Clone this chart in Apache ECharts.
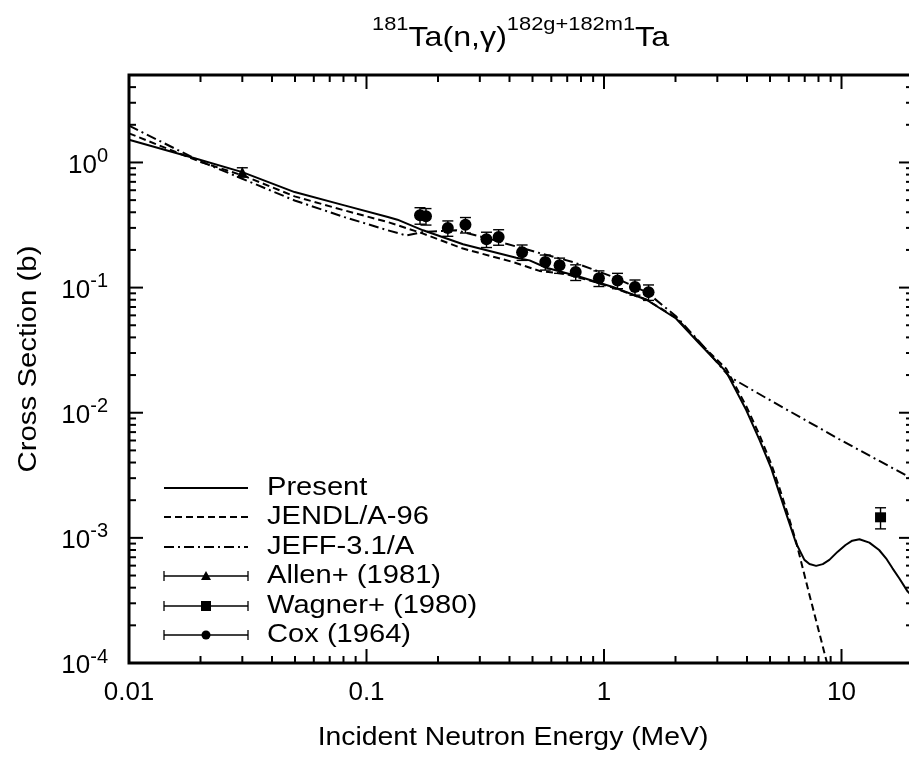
<!DOCTYPE html>
<html>
<head>
<meta charset="utf-8">
<script src="https://cdn.jsdelivr.net/npm/echarts@6/dist/echarts.min.js"></script>
<style>html,body{margin:0;padding:0;background:#fff;}#c{width:909px;height:758px;}</style>
</head>
<body>
<div id="c"></div>
<script>
// ---- data ----
const presentE = [0.01, 0.0189, 0.03, 0.0498, 0.0807, 0.123, 0.135, 0.173, 0.255, 0.427, 0.486, 0.572, 0.789, 1.09, 1.51, 2.01, 2.52, 2.9, 3.27, 3.97, 4.52, 5.06, 5.48, 5.94, 6.44, 6.98, 7.33, 7.82, 8.34, 8.89, 9.64, 10.4, 11.1, 11.9, 13.1, 14.4, 15.4, 16.4, 17.5, 19.0, 20];
const presentS = [1.52, 1.08, 0.837, 0.58, 0.454, 0.366, 0.349, 0.287, 0.222, 0.173, 0.165, 0.144, 0.122, 0.101, 0.080, 0.0566, 0.0357, 0.027, 0.0212, 0.0105, 0.00604, 0.00359, 0.00227, 0.00143, 0.000906, 0.000667, 0.000619, 0.000597, 0.000617, 0.000667, 0.000776, 0.000877, 0.00095, 0.000975, 0.000916, 0.0008, 0.000687, 0.000571, 0.000476, 0.000372, 0.00034];

const jendlE = [0.01, 0.02, 0.03, 0.0498, 0.0807, 0.123, 0.173, 0.255, 0.414, 0.535, 0.694, 0.9, 1.09, 1.51, 2.01, 2.52, 2.9, 3.27, 3.97, 4.52, 5.06, 5.48, 5.94, 6.44, 7.33, 8.07, 9.0];
const jendlS = [1.71, 1.01, 0.79, 0.536, 0.414, 0.334, 0.27, 0.205, 0.16, 0.136, 0.128, 0.112, 0.1, 0.08, 0.0575, 0.0365, 0.028, 0.0225, 0.0113, 0.0066, 0.0039, 0.0025, 0.00155, 0.00093, 0.00035, 0.000173, 0.000077];

const jeffE = [0.01, 0.02, 0.03, 0.0498, 0.0807, 0.123, 0.147, 0.173, 0.239, 0.33, 0.388, 0.535, 0.74, 1.09, 1.51, 2.01, 2.52, 3.37, 4.82, 10, 20];
const jeffS = [1.97, 1.02, 0.741, 0.497, 0.366, 0.287, 0.261, 0.278, 0.287, 0.245, 0.224, 0.189, 0.16, 0.122, 0.092, 0.059, 0.037, 0.0194, 0.0131, 0.006, 0.00295];

const allenE = [0.03];
const allenS = [0.837];
const allenErr = [0.07];

const wagnerE = [14.6];
const wagnerS = [0.00146];
const wagnerErr = [0.00028];

const coxE = [0.168, 0.178, 0.22, 0.261, 0.32, 0.36, 0.452, 0.566, 0.65, 0.76, 0.952, 1.14, 1.35, 1.54];
const coxS = [0.378, 0.372, 0.299, 0.318, 0.243, 0.254, 0.192, 0.16, 0.151, 0.133, 0.119, 0.114, 0.101, 0.092];
const coxErr = [0.057, 0.056, 0.042, 0.045, 0.034, 0.036, 0.027, 0.022, 0.021, 0.019, 0.017, 0.016, 0.014, 0.013];

const xMajorTicks = [0.01, 0.1, 1, 10];
const xTickLabels = ['0.01', '0.1', '1', '10'];
const yMajorTicks = [1e-4, 1e-3, 1e-2, 1e-1, 1];
const yTickExponents = ['-4', '-3', '-2', '-1', '0'];

const legendNames = ['Present', 'JENDL/A-96', 'JEFF-3.1/A', 'Allen+ (1981)', 'Wagner+ (1980)', 'Cox (1964)'];
const titleParts = ['181', 'Ta(n,\u03b3)', '182g+182m1', 'Ta'];

// ---- helpers ----
const X_MIN = 0.01, X_MAX = 20, Y_MIN = 1e-4, Y_MAX = 5;
const FONT = 'Liberation Sans, Arial, sans-serif';

function minorsBetween(lo, hi, majors) {
  const out = [];
  majors.forEach(m => { for (let k = 2; k <= 9; k++) { const v = m * k; if (v > lo && v <= hi) out.push(v); } });
  return out;
}
const xMinor = minorsBetween(X_MIN, X_MAX, xMajorTicks);
const yMinor = minorsBetween(Y_MIN, Y_MAX, yMajorTicks);

const pairs = (xs, ys) => xs.map((x, i) => [x, ys[i]]);
const errData = (xs, ys, es) => xs.map((x, i) => [x, ys[i], ys[i] - es[i], ys[i] + es[i]]);

function errRender(params, api) {
  const x = api.value(0);
  const pl = api.coord([x, api.value(2)]);
  const ph = api.coord([x, api.value(3)]);
  const w = 5.5;
  const st = { stroke: '#000', lineWidth: 1.4 };
  return { type: 'group', children: [
    { type: 'line', shape: { x1: pl[0], y1: pl[1], x2: ph[0], y2: ph[1] }, style: st },
    { type: 'line', shape: { x1: ph[0] - w, y1: ph[1], x2: ph[0] + w, y2: ph[1] }, style: st },
    { type: 'line', shape: { x1: pl[0] - w, y1: pl[1], x2: pl[0] + w, y2: pl[1] }, style: st }
  ]};
}

function xTickRender(params, api) {
  const p = api.coord([api.value(0), 1]);
  const cs = params.coordSys;
  const len = api.value(1) ? 14 : 7;
  const st = { stroke: '#000', lineWidth: 2 };
  const b = cs.y + cs.height;
  return { type: 'group', children: [
    { type: 'line', shape: { x1: p[0], y1: b, x2: p[0], y2: b - len }, style: st },
    { type: 'line', shape: { x1: p[0], y1: cs.y, x2: p[0], y2: cs.y + len }, style: st }
  ]};
}
function yTickRender(params, api) {
  const p = api.coord([1, api.value(2)]);
  const cs = params.coordSys;
  const len = api.value(1) ? 14 : 7;
  const st = { stroke: '#000', lineWidth: 2 };
  const r = cs.x + cs.width;
  return { type: 'group', children: [
    { type: 'line', shape: { x1: cs.x, y1: p[1], x2: cs.x + len, y2: p[1] }, style: st },
    { type: 'line', shape: { x1: r, y1: p[1], x2: r - len, y2: p[1] }, style: st }
  ]};
}

// ---- legend graphics ----
const LX1 = 164, LX2 = 248, LXM = 206, LTX = 267;
const rowY = [488, 517, 547, 576, 606, 635];
const legendGraphics = [];
const lineDashes = [null, [7, 4], [10, 4, 2, 4]];
for (let i = 0; i < 3; i++) {
  legendGraphics.push({ type: 'line', shape: { x1: LX1, y1: rowY[i], x2: LX2, y2: rowY[i] },
    style: { stroke: '#000', lineWidth: 2, lineDash: lineDashes[i] } });
}
for (let i = 3; i < 6; i++) {
  const y = rowY[i];
  const st = { stroke: '#000', lineWidth: 1.3 };
  legendGraphics.push({ type: 'line', shape: { x1: LX1, y1: y, x2: LX2, y2: y }, style: st });
  legendGraphics.push({ type: 'line', shape: { x1: LX1, y1: y - 5, x2: LX1, y2: y + 5 }, style: st });
  legendGraphics.push({ type: 'line', shape: { x1: LX2, y1: y - 5, x2: LX2, y2: y + 5 }, style: st });
}
legendGraphics.push({ type: 'polygon', shape: { points: [[LXM, rowY[3] - 5], [LXM - 5, rowY[3] + 4], [LXM + 5, rowY[3] + 4]] }, style: { fill: '#000' } });
legendGraphics.push({ type: 'rect', shape: { x: LXM - 5, y: rowY[4] - 5, width: 10, height: 10 }, style: { fill: '#000' } });
legendGraphics.push({ type: 'circle', shape: { cx: LXM, cy: rowY[5], r: 4.5 }, style: { fill: '#000' } });
legendNames.forEach((n, i) => {
  legendGraphics.push({ type: 'text', x: LTX, y: rowY[i], scaleX: 1.12,
    style: { text: n, fill: '#000', font: '26px ' + FONT, align: 'left', verticalAlign: 'middle', textAlign: 'left', textVerticalAlign: 'middle' } });
});

const chart = echarts.init(document.getElementById('c'), null, { renderer: 'canvas' });
chart.setOption({
  backgroundColor: '#fff',
  animation: false,
  grid: { left: 129, top: 75, width: 784, height: 588, show: true, borderColor: '#000', borderWidth: 3, backgroundColor: 'transparent', outerBoundsMode: 'none', containLabel: false },
  xAxis: {
    type: 'log', logBase: 10, min: X_MIN, max: X_MAX,
    axisLine: { show: false }, axisTick: { show: false }, splitLine: { show: false },
    axisLabel: {
      color: '#000', fontSize: 26, fontFamily: FONT, margin: 17,
      formatter: v => { const i = xMajorTicks.findIndex(t => Math.abs(Math.log10(v) - Math.log10(t)) < 1e-6); return i >= 0 ? xTickLabels[i] : ''; }
    }
  },
  yAxis: {
    type: 'log', logBase: 10, min: Y_MIN, max: Y_MAX,
    axisLine: { show: false }, axisTick: { show: false }, splitLine: { show: false },
    axisLabel: {
      color: '#000', margin: 21,
      formatter: v => { const i = yMajorTicks.findIndex(t => Math.abs(Math.log10(v) - Math.log10(t)) < 1e-6); return i >= 0 ? '{b|10}{s|' + yTickExponents[i] + '}' : ''; },
      rich: {
        b: { fontSize: 26, fontFamily: FONT, color: '#000', verticalAlign: 'bottom' },
        s: { fontSize: 20, fontFamily: FONT, color: '#000', verticalAlign: 'bottom', padding: [0, 0, 12, 0] }
      }
    }
  },
  graphic: [
    { type: 'text', x: 372, y: 52, scaleX: 1.15,
      style: { text: '{s|' + titleParts[0] + '}{n|' + titleParts[1] + '}{s|' + titleParts[2] + '}{n|' + titleParts[3] + '}',
        align: 'left', verticalAlign: 'bottom', textAlign: 'left', textVerticalAlign: 'bottom',
        rich: {
          n: { fontSize: 28, fontFamily: FONT, fill: '#000', color: '#000', verticalAlign: 'bottom' },
          s: { fontSize: 19, fontFamily: FONT, fill: '#000', color: '#000', verticalAlign: 'bottom', padding: [0, 0, 18, 0] }
        } } },
    { type: 'text', x: 513, y: 738, scaleX: 1.09, style: { text: 'Incident Neutron Energy (MeV)', fill: '#000', font: '26px ' + FONT, align: 'center', verticalAlign: 'middle', textAlign: 'center', textVerticalAlign: 'middle' } },
    { type: 'text', x: 29, y: 359, rotation: Math.PI / 2, scaleX: 1.13, style: { text: 'Cross Section (b)', fill: '#000', font: '26px ' + FONT, align: 'center', verticalAlign: 'middle', textAlign: 'center', textVerticalAlign: 'middle' } },
    ...legendGraphics
  ],
  series: [
    { name: 'Present', type: 'line', data: pairs(presentE, presentS), showSymbol: false, clip: true, lineStyle: { color: '#000', width: 2 }, z: 3 },
    { name: 'JENDL/A-96', type: 'line', data: pairs(jendlE, jendlS), showSymbol: false, clip: true, lineStyle: { color: '#000', width: 2, type: [7, 4] }, z: 3 },
    { name: 'JEFF-3.1/A', type: 'line', data: pairs(jeffE, jeffS), showSymbol: false, clip: true, lineStyle: { color: '#000', width: 2, type: [10, 4, 2, 4] }, z: 3 },
    { type: 'custom', name: 'allenErr', data: errData(allenE, allenS, allenErr), encode: { x: 0, y: 1 }, renderItem: errRender, silent: true, z: 4 },
    { type: 'custom', name: 'wagnerErr', data: errData(wagnerE, wagnerS, wagnerErr), encode: { x: 0, y: 1 }, renderItem: errRender, silent: true, z: 4 },
    { type: 'custom', name: 'coxErr', data: errData(coxE, coxS, coxErr), encode: { x: 0, y: 1 }, renderItem: errRender, silent: true, z: 4 },
    { name: 'Allen+ (1981)', type: 'scatter', data: pairs(allenE, allenS), symbol: 'triangle', symbolSize: 11, itemStyle: { color: '#000', opacity: 1 }, z: 5 },
    { name: 'Wagner+ (1980)', type: 'scatter', data: pairs(wagnerE, wagnerS), symbol: 'rect', symbolSize: [11, 10], itemStyle: { color: '#000', opacity: 1 }, z: 5 },
    { name: 'Cox (1964)', type: 'scatter', data: pairs(coxE, coxS), symbol: 'circle', symbolSize: 12, itemStyle: { color: '#000', opacity: 1 }, z: 5 },
    { type: 'custom', name: 'xticks', silent: true, z: 6, encode: { x: 0, y: 2 }, renderItem: xTickRender,
      data: xMajorTicks.map(v => [v, 1, 1]).concat(xMinor.map(v => [v, 0, 1])) },
    { type: 'custom', name: 'yticks', silent: true, z: 6, encode: { x: 0, y: 2 }, renderItem: yTickRender,
      data: yMajorTicks.map(v => [1, 1, v]).concat(yMinor.map(v => [1, 0, v])) }
  ]
});
</script>
</body>
</html>
